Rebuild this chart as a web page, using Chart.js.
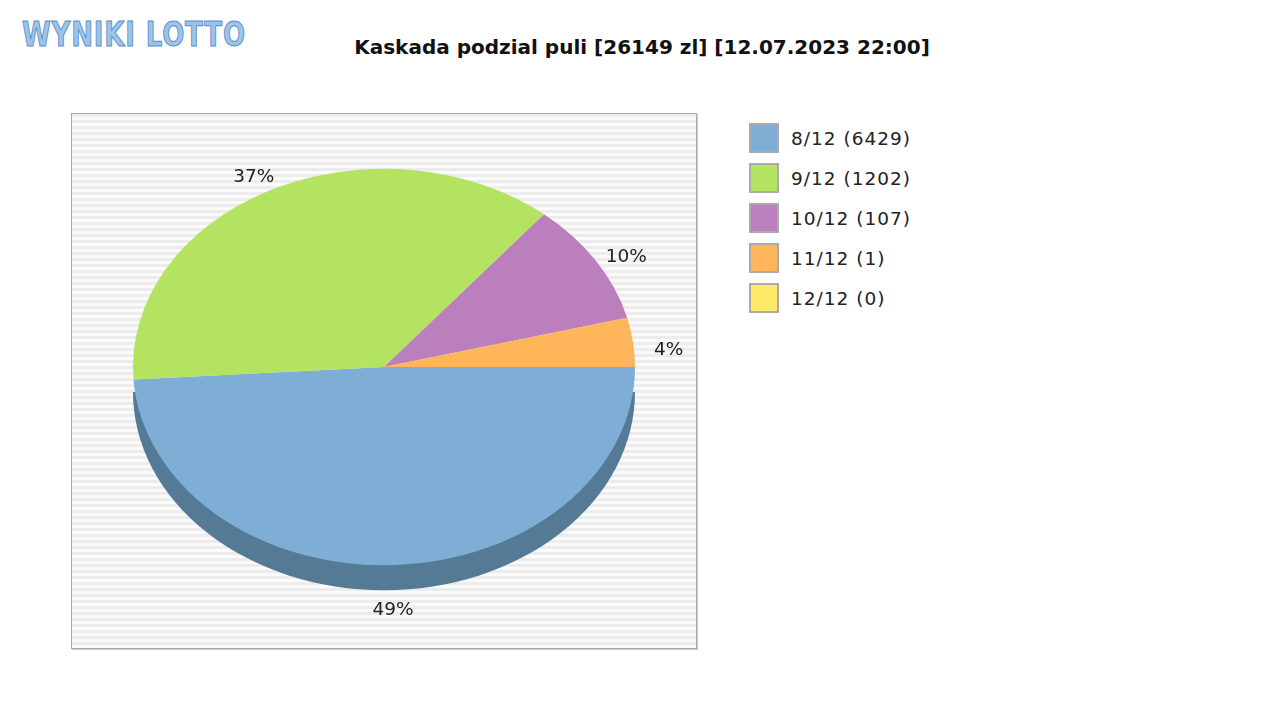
<!DOCTYPE html>
<html>
<head>
<meta charset="utf-8">
<script src="https://cdn.jsdelivr.net/npm/chart.js@4"></script>
<style>
    body { margin: 0; width: 1280px; height: 720px; background: #fff; font-family: 'DejaVu Sans', sans-serif; position: relative; overflow: hidden }
    #logo { position: absolute; left: 22px; top: 14px; font: bold 34px 'DejaVu Sans Condensed', 'DejaVu Sans', sans-serif; color: #9cc4ea; letter-spacing: 1px; -webkit-text-stroke: 1px #5d8fc4; transform: scaleX(0.85); transform-origin: left }
    #title { position: absolute; left: 0; width: 1284px; top: 35px; text-align: center; font-weight: bold; font-size: 20px; color: #111 }
    #plot { position: absolute; left: 71px; top: 113px; width: 624px; height: 534px; border: 1px solid #aaa; box-shadow: 1px 1px 0 #ccc;
        background: repeating-linear-gradient(#ececec 0 3px, #fbfbfb 3px 6px) }
    #legend { position: absolute; left: 749px; top: 123px; font-size: 18.5px; color: #222; letter-spacing: 1px }
    .item { display: flex; align-items: center; height: 30px; margin-bottom: 10px }
    .box { width: 26px; height: 26px; border: 2px solid #aaa; margin-right: 12px }
</style>
</head>
<body>
<div id="logo">WYNIKI LOTTO</div>
<div id="title">Kaskada podzial puli [26149 zl] [12.07.2023 22:00]</div>
<div id="plot"><canvas id="chart-canvas"></canvas></div>
<div id="legend"></div>
<script>
const categories = ['8/12 (6429)', '9/12 (1202)', '10/12 (107)', '11/12 (1)', '12/12 (0)']
const shares = [49, 37, 10, 4, 0]
const colors = ['#7eaed5', '#b4e261', '#bb7fbd', '#ffb55a', '#fde967']
const shadowColor = '#557a96'

const flatten = 0.79
const depth = 25

const legend = document.getElementById('legend')
categories.forEach((label, index) => {
    const item = document.createElement('div')
    item.className = 'item'
    item.innerHTML = `<div class="box" style="background:${colors[index]}"></div>${label}`
    legend.appendChild(item)
})

// Spłaszcza koło w elipsę i dorysowuje cień pod dolną częścią
const tiltPlugin = {
    id: 'tilt',
    beforeDatasetsDraw(chart) {
        const ctx = chart.ctx
        const arc = chart.getDatasetMeta(0).data[0]
        const cx = arc.x, cy = arc.y
        ctx.save()
        ctx.translate(cx, cy + depth)
        ctx.scale(1, flatten)
        ctx.beginPath()
        ctx.moveTo(0, 0)
        ctx.arc(0, 0, arc.outerRadius, 0, Math.PI)
        ctx.fillStyle = shadowColor
        ctx.fill()
        ctx.restore()
        ctx.save()
        ctx.translate(cx, cy)
        ctx.scale(1, flatten)
        ctx.translate(-cx, -cy)
    },
    afterDatasetsDraw(chart) {
        chart.ctx.restore()
    },
    afterDraw(chart) {
        const ctx = chart.ctx
        const total = shares.reduce((a, b) => a + b, 0)
        ctx.save()
        ctx.font = '18.5px "DejaVu Sans"'
        ctx.fillStyle = '#222'
        ctx.textAlign = 'center'
        ctx.textBaseline = 'middle'
        chart.getDatasetMeta(0).data.forEach((arc, i) => {
            if (!shares[i]) return
            const mid = (arc.startAngle + arc.endAngle) / 2
            const r = arc.outerRadius + 36
            let x = arc.x + r * Math.cos(mid)
            let y = arc.y + r * flatten * Math.sin(mid)
            if (Math.sin(mid) > 0.3) y += depth - 20
            ctx.fillText(Math.round(shares[i] / total * 100) + '%', x, y + 12)
        })
        ctx.restore()
    }
}

new Chart(document.getElementById('chart-canvas'), {
    type: 'pie',
    data: {
        labels: categories,
        datasets: [{ data: shares, backgroundColor: colors, borderWidth: 0 }]
    },
    options: {
        responsive: true,
        maintainAspectRatio: false,
        animation: false,
        rotation: 90,
        radius: 251,
        layout: { padding: { bottom: 28 } },
        plugins: { legend: { display: false }, tooltip: { enabled: false } }
    },
    plugins: [tiltPlugin]
})
</script>
</body>
</html>
